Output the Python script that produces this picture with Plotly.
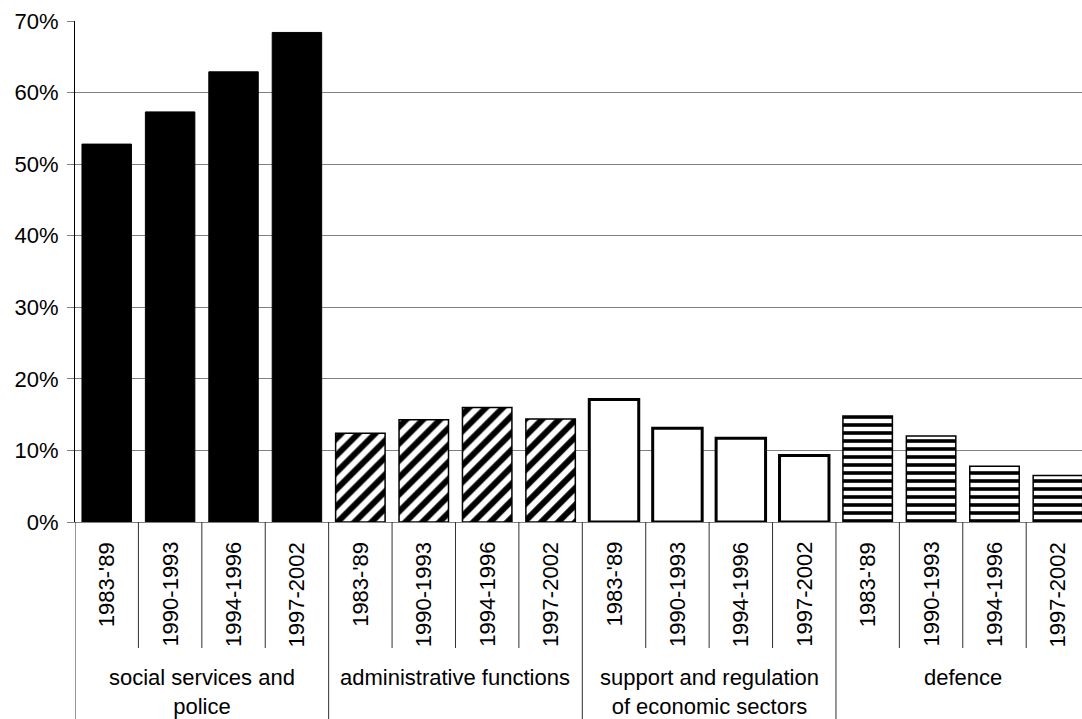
import plotly.graph_objects as go

groups = ["social services and<br>police", "administrative functions",
          "support and regulation<br>of economic sectors", "defence"]
periods = ["1983-'89", "1990-1993", "1994-1996", "1997-2002"]
social = [0.528, 0.573, 0.629, 0.684]
admin = [0.124, 0.143, 0.160, 0.144]
support = [0.171, 0.131, 0.117, 0.093]
defence = [0.148, 0.120, 0.078, 0.065]
series = [social, admin, support, defence]

styles = [
    dict(color="black", line=dict(color="black", width=1)),
    dict(color="white", line=dict(color="black", width=1.5),
         pattern=dict(shape="/", fgcolor="black", bgcolor="white", size=12,
                      solidity=0.5, fgopacity=1)),
    dict(color="white", line=dict(color="black", width=3)),
    dict(color="white", line=dict(color="black", width=1.5),
         pattern=dict(shape="-", fgcolor="black", bgcolor="white", size=8,
                      solidity=0.45, fgopacity=1)),
]

FONT = "Liberation Sans, Arial, sans-serif"
fig = go.Figure()
n = len(periods)
for g, (vals, st) in enumerate(zip(series, styles)):
    xs = [g * n + i for i in range(n)]
    fig.add_trace(go.Bar(x=xs, y=vals, width=0.78, marker=st, showlegend=False))

H = 719
plot_top, plot_bot = 21, 522
ph = plot_bot - plot_top
def py(pix):
    return (plot_bot - pix) / ph

annotations = []
shapes = []
total = len(groups) * n
for g, gname in enumerate(groups):
    for i, p in enumerate(periods):
        idx = g * n + i
        annotations.append(dict(x=idx, y=py(540), xref="x", yref="paper", text=p,
                                textangle=-90, showarrow=False, xanchor="center",
                                yanchor="top", font=dict(size=22, family=FONT, color="black")))
    annotations.append(dict(x=g * n + (n - 1) / 2, y=py(663), xref="x", yref="paper",
                            text=gname, showarrow=False, xanchor="center", yanchor="top",
                            align="center", font=dict(size=22, family=FONT, color="black")))
for b in range(total + 1):
    x = b - 0.5
    if b % n == 0:
        y1 = py(H + 5)
    else:
        y1 = py(648)
    shapes.append(dict(type="line", xref="x", yref="paper", x0=x, x1=x, y0=0, y1=y1,
                       line=dict(color="#303030", width=1)))

fig.update_layout(
    width=1082, height=H,
    margin=dict(l=75, r=0, t=plot_top, b=H - plot_bot),
    plot_bgcolor="white", paper_bgcolor="white",
    font=dict(family=FONT, size=22, color="black"),
    barmode="overlay",
    xaxis=dict(range=[-0.5, 15.38], showticklabels=False, showgrid=False, zeroline=False,
               showline=True, linecolor="#808080", linewidth=1, ticks=""),
    yaxis=dict(range=[0, 0.7], dtick=0.1, tickformat=".0%", showgrid=True,
               gridcolor="#808080", gridwidth=1, zeroline=False, showline=True,
               linecolor="black", linewidth=1, ticks="outside", ticklen=7,
               tickcolor="#808080", ticklabelstandoff=4,
               tickfont=dict(size=22, family=FONT, color="black")),
    annotations=annotations,
    shapes=shapes,
)

fig.write_html("out.html")
